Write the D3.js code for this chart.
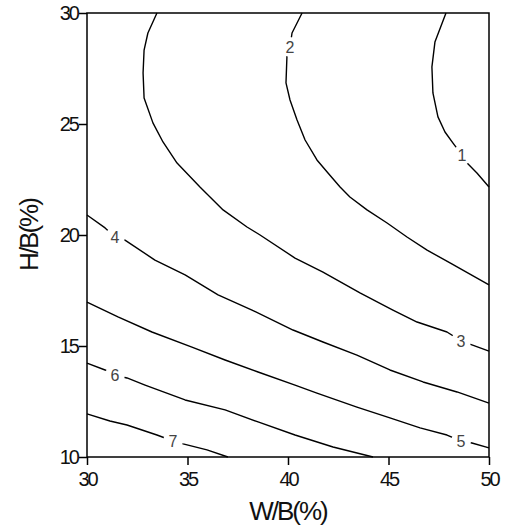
<!DOCTYPE html>
<html>
<head>
<meta charset="utf-8">
<script src="https://cdn.jsdelivr.net/npm/d3@7"></script>
<style>
  body { margin: 0; background: #fff; }
  svg text { font-family: "Liberation Sans", Arial, Helvetica, sans-serif; }
</style>
</head>
<body>
<svg id="chart" width="506" height="526"></svg>
<script>
// Contour lines of the response surface, each as [W/B %, H/B %] vertices.
const contour1 = [[47.86,30],[47.31,28.69],[47.16,27.57],[47.21,26.40],[47.46,25.32],[47.81,24.64],[48.21,24.14],[48.66,23.6],[48.91,23.24],[49.40,22.79],[50,22.16]];
const contour2 = [[40.70,30],[40.20,29.10],[40.10,28.47],[39.95,28.11],[39.90,26.85],[40.10,26.08],[40.45,25.18],[40.85,24.28],[41.44,23.38],[41.99,22.79],[42.59,22.16],[43.08,21.71],[43.93,21.13],[44.93,20.54],[45.92,19.91],[46.92,19.32],[48.06,18.74],[50,17.75]];
const contour3 = [[33.48,30],[33.03,29.10],[32.84,28.33],[32.79,27.30],[32.84,26.17],[33.28,25.05],[33.78,24.19],[34.48,23.24],[35.62,22.16],[36.77,21.13],[37.96,20.36],[38.61,20.0],[40.35,18.96],[41.74,18.33],[43.58,17.39],[45.22,16.62],[46.42,16.08],[47.91,15.63],[48.61,15.23],[49.15,15.05],[50,14.77]];
const contour4 = [[30,20.90],[30.90,20.32],[31.39,19.91],[31.89,19.77],[33.38,18.87],[34.88,18.20],[36.52,17.30],[38.21,16.62],[40.25,15.72],[41.74,15.18],[43.43,14.59],[45.07,13.92],[46.72,13.38],[48.41,12.93],[50,12.43]];
const contour5 = [[30,16.98],[31.54,16.31],[33.23,15.63],[35.22,14.95],[36.87,14.37],[38.51,13.83],[40.35,13.24],[41.44,12.88],[43.43,12.25],[45.07,11.76],[46.57,11.31],[47.91,10.99],[48.61,10.72],[49.15,10.63],[50,10.41]];
const contour6 = [[30,14.23],[30.90,13.92],[31.39,13.69],[31.99,13.56],[32.89,13.24],[34.88,12.57],[36.87,12.12],[38.51,11.58],[40.35,10.99],[42.24,10.45],[44.23,10]];
const contour7 = [[30,11.94],[31.14,11.62],[31.99,11.44],[33.48,10.99],[34.28,10.72],[34.78,10.59],[35.97,10.32],[37.01,10]];

const contourLines = [contour1, contour2, contour3, contour4, contour5, contour6, contour7];
const contourLevels = ["1", "2", "3", "4", "5", "6", "7"];
// Where each level's value is written on its line.
const labelPositions = [[48.66,23.6],[40.10,28.47],[48.61,15.23],[31.39,19.91],[48.61,10.72],[31.39,13.69],[34.28,10.72]];

const xTicks = [30, 35, 40, 45, 50];
const yTicks = [10, 15, 20, 25, 30];
const xTitle = "W/B(%)";
const yTitle = "H/B(%)";

const svg = d3.select("#chart");
const margin = { left: 87, top: 13, right: 17, bottom: 69 };
const W = 506, H = 526;

const x = d3.scaleLinear().domain([30, 50]).range([margin.left, W - margin.right]);
const y = d3.scaleLinear().domain([10, 30]).range([H - margin.bottom, margin.top]);

const line = d3.line().x(d => x(d[0])).y(d => y(d[1]));

// contour lines
const lines = svg.append("g");
contourLines.forEach(c => {
  lines.append("path")
    .attr("d", line(c))
    .attr("fill", "none")
    .attr("stroke", "#000")
    .attr("stroke-width", 1.4)
    .attr("stroke-linejoin", "round");
});

// level labels with a knockout behind them
const labels = svg.append("g");
labelPositions.forEach((p, i) => {
  labels.append("circle")
    .attr("cx", x(p[0])).attr("cy", y(p[1])).attr("r", 10)
    .attr("fill", "#fff");
  labels.append("text")
    .attr("x", x(p[0])).attr("y", y(p[1]))
    .attr("dy", "0.36em")
    .attr("text-anchor", "middle")
    .attr("font-size", 16)
    .attr("fill", "#444")
    .text(contourLevels[i]);
});

// frame
svg.append("rect")
  .attr("x", x(30)).attr("y", y(30))
  .attr("width", x(50) - x(30)).attr("height", y(10) - y(30))
  .attr("fill", "none").attr("stroke", "#000").attr("stroke-width", 1.5);

// axes
const xAxis = svg.append("g")
  .attr("transform", `translate(0,${y(10)})`)
  .call(d3.axisBottom(x).tickValues(xTicks).tickSize(8).tickPadding(7));
const yAxis = svg.append("g")
  .attr("transform", `translate(${x(30)},0)`)
  .call(d3.axisLeft(y).tickValues(yTicks).tickSize(8).tickPadding(1));

[xAxis, yAxis].forEach(a => {
  a.select(".domain").remove();
  a.selectAll(".tick line").attr("stroke", "#000").attr("stroke-width", 1.5);
  a.selectAll(".tick text")
    .attr("fill", "#111")
    .attr("font-size", 20)
    .attr("letter-spacing", "-2px")
    .style("font-family", '"Liberation Sans", Arial, sans-serif');
});

// axis titles
svg.append("text")
  .attr("x", (x(30) + x(50)) / 2).attr("y", 520)
  .attr("text-anchor", "middle")
  .attr("font-size", 26)
  .attr("letter-spacing", "-2px")
  .attr("fill", "#111")
  .text(xTitle);

svg.append("text")
  .attr("transform", `translate(38,${(y(10) + y(30)) / 2}) rotate(-90)`)
  .attr("text-anchor", "middle")
  .attr("font-size", 26)
  .attr("letter-spacing", "-2px")
  .attr("fill", "#111")
  .text(yTitle);
</script>
</body>
</html>
